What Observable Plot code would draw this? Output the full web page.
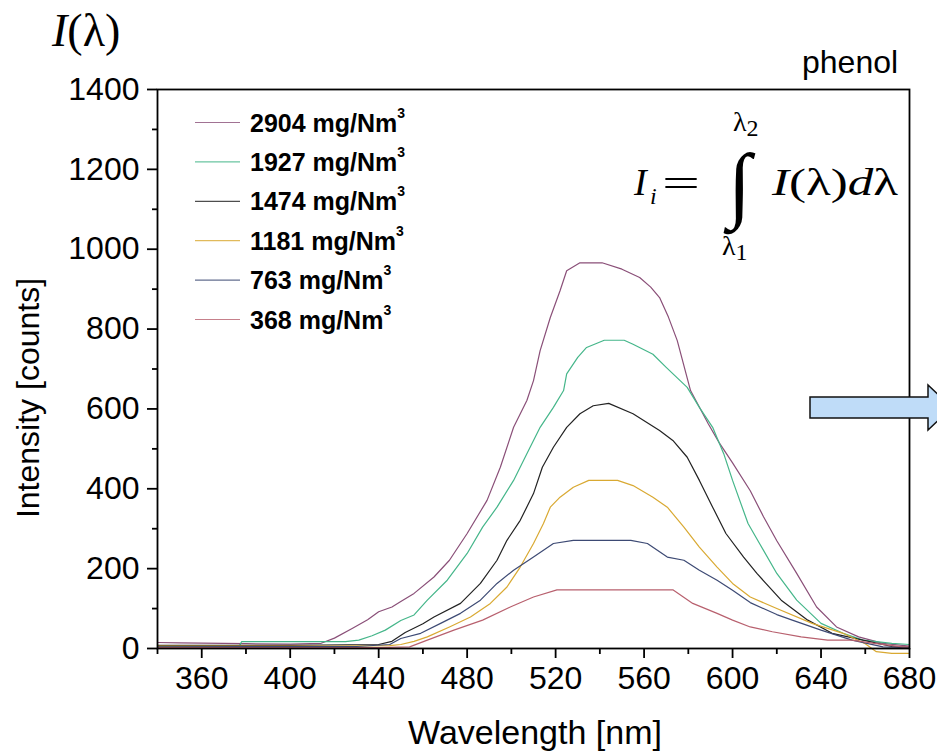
<!DOCTYPE html>
<html>
<head>
<meta charset="utf-8">
<script src="https://cdn.jsdelivr.net/npm/d3@7"></script>
<script src="https://cdn.jsdelivr.net/npm/@observablehq/plot@0.6"></script>
<style>
  html, body { margin: 0; padding: 0; background: #fff; }
  svg { display: block; }
</style>
</head>
<body>
<div id="chart"></div>
<script>
// ---- Data ----
const seriesLabels = ["2904", "1927", "1474", "1181", "763", "368"];
const seriesColors = ["#8a4f78", "#45b68a", "#222222", "#d9a932", "#3d4a74", "#b8606e"];
const xTicks = [360, 400, 440, 480, 520, 560, 600, 640, 680];
const xMinorTicks = [340, 380, 420, 460, 500, 540, 580, 620, 660];
const yTicks = [0, 200, 400, 600, 800, 1000, 1200, 1400];
const yMinorTicks = [100, 300, 500, 700, 900, 1100, 1300];

// [wavelength nm, intensity counts]
const c2904 = [[340,15],[350,14],[380,12],[400,11],[414,13],[420,26],[428,50],[435,72],[440,92],[446,104],[450,118],[456,138],[465,179],[472,221],[480,288],[489,371],[495,454],[501,554],[507,621],[510,671],[513,746],[517.6,829],[522,896],[525,946],[531,966],[541,966],[550,950],[558,929],[563,905],[567,879],[571,830],[575,771],[581,646],[589,563],[594,515],[600,465],[608,395],[614,330],[620,270],[629,188],[638,104],[647,54],[657,29],[668,13],[680,6]];
const c1927 = [[340,5],[377,6],[378,17],[400,17],[425,17],[431,21],[437,32],[443,46],[450,70],[456,84],[462,121],[471,171],[480,238],[487,304],[493.5,354],[501,421],[507,488],[513,554],[519,604],[523.6,646],[525,688],[530,729],[534,754],[542,772],[551,772],[555,762],[564,737],[570,704],[579.5,654],[585,604],[591,554],[596,488],[600,421],[607,313],[612,265],[620,188],[629,121],[640,63],[650,38],[659,21],[672,13],[680,10]];
const c1474 = [[340,8],[400,8],[440,10],[446,18],[452,40],[460,62],[465,79],[477,113],[486,163],[493.5,221],[498,271],[504,321],[510,388],[514,454],[519,504],[525,554],[531,588],[537,608],[544,614],[555,588],[567,546],[573,521],[579.5,479],[585,421],[591,354],[597,288],[605,229],[611,188],[622,121],[634,71],[645,38],[659,21],[672,5],[680,3]];
const c1181 = [[340,6],[420,6],[445,7],[450,10],[456,18],[462,29],[472,54],[481.5,79],[490.5,113],[498,154],[504,204],[510,263],[514.5,313],[517.6,354],[522,379],[528,404],[535,421],[548,421],[555,408],[564,379],[570.5,354],[578,304],[585,254],[593,204],[600,163],[608,129],[620,100],[636,63],[650,38],[660,12],[665,-8],[672,-12],[680,-12]];
const c763 = [[340,4],[430,5],[445,10],[450,25],[459,38],[468,63],[477,88],[486,121],[493.5,163],[501,196],[510,229],[519,263],[528,271],[554,271],[561.5,263],[570.5,229],[578,221],[585,196],[593,171],[600,146],[608,115],[620,85],[627,71],[640,46],[654,21],[668,4],[680,2]];
const c368 = [[340,2],[440,2],[454,4],[462,21],[474,46],[487,71],[499.5,104],[510,129],[520.6,147],[573,147],[582,113],[593,88],[600,71],[608,54],[618,42],[631,29],[643,21],[654,21],[664,13],[677,4],[680,4]];
const curves = [c2904, c1927, c1474, c1181, c763, c368];

const rows = seriesLabels.flatMap((s, i) => curves[i].map(([w, v]) => ({series: s, w, v})));

const W = 937, H = 755;
const chart = Plot.plot({
  width: W,
  height: H,
  marginLeft: 157,
  marginRight: 28,
  marginTop: 89,
  marginBottom: 107,
  style: {fontFamily: "'Liberation Sans', Arial, sans-serif", background: "#fff", color: "#000", overflow: "visible"},
  x: {domain: [340, 680]},
  y: {domain: [0, 1400]},
  color: {domain: seriesLabels, range: seriesColors},
  marks: [
    Plot.line(rows, {x: "w", y: "v", z: "series", stroke: "series", strokeWidth: 1.2}),
    Plot.axisY({ticks: yTicks, tickSize: 10, tickPadding: 8, fontSize: 32, tickFormat: d => String(d), label: null, strokeWidth: 1.8}),
    Plot.axisY({ticks: yMinorTicks, tickSize: 5, tickFormat: () => "", label: null, strokeWidth: 1.8}),
    Plot.axisX({ticks: xTicks, tickSize: 10, tickPadding: 8, fontSize: 32, tickFormat: d => String(d), label: null, strokeWidth: 1.8}),
    Plot.axisX({ticks: xMinorTicks, tickSize: 6, tickFormat: () => "", label: null, strokeWidth: 1.8}),
    Plot.frame({stroke: "#000", strokeWidth: 1.8})
  ]
});
document.getElementById("chart").appendChild(chart);

// ---- Annotations ----
const svg = d3.select(chart);
const sans = "'Liberation Sans', Arial, sans-serif";
const serif = "'Liberation Serif', 'DejaVu Serif', serif";
const ann = svg.append("g").attr("text-anchor", "start");

// Axis titles
ann.append("text").attr("x", 535).attr("y", 744).attr("text-anchor", "middle")
  .attr("font-family", sans).attr("font-size", 34).text("Wavelength [nm]");
ann.append("text").attr("transform", "translate(39,398) rotate(-90)").attr("text-anchor", "middle")
  .attr("font-family", sans).attr("font-size", 32).text("Intensity [counts]");

// Top-left I(λ)
const t1 = ann.append("text").attr("x", 52).attr("y", 46).attr("font-family", serif).attr("font-size", 46);
t1.append("tspan").attr("font-style", "italic").text("I");
t1.append("tspan").text("(λ)");

// phenol
ann.append("text").attr("x", 802).attr("y", 73).attr("font-family", sans).attr("font-size", 32).text("phenol");

// Legend
const legX0 = 195, legX1 = 240, legTextX = 250, legY0 = 122.5, legDy = 39.4;
seriesLabels.forEach((s, i) => {
  const y = legY0 + i * legDy;
  ann.append("line").attr("x1", legX0).attr("x2", legX1).attr("y1", y).attr("y2", y)
    .attr("stroke", seriesColors[i]).attr("stroke-width", 1.2).attr("stroke-opacity", 0.8);
  const t = ann.append("text").attr("x", legTextX).attr("y", y + 9)
    .attr("font-family", sans).attr("font-size", 25).attr("font-weight", "bold");
  t.append("tspan").text(s + " mg/Nm");
  t.append("tspan").attr("font-size", 14).attr("dy", -14).text("3");
});

// Formula
const f = ann.append("g").attr("font-family", serif);
f.append("text").attr("x", 634).attr("y", 195).attr("font-size", 38).attr("font-style", "italic").text("I");
f.append("text").attr("x", 650).attr("y", 204).attr("font-size", 24).attr("font-style", "italic").text("i");
f.append("text").attr("x", 662).attr("y", 196).attr("font-size", 38).attr("textLength", 38).attr("lengthAdjust", "spacingAndGlyphs").text("=");
f.append("text").attr("x", 728).attr("y", 212).attr("font-size", 84).text("∫");
const l2 = f.append("text").attr("x", 733).attr("y", 131).attr("font-size", 28);
l2.append("tspan").text("λ");
l2.append("tspan").attr("font-size", 24).attr("dy", 5).text("2");
const l1 = f.append("text").attr("x", 722).attr("y", 255).attr("font-size", 28);
l1.append("tspan").text("λ");
l1.append("tspan").attr("font-size", 24).attr("dy", 5).text("1");
const rhs = f.append("text").attr("x", 772).attr("y", 195).attr("font-size", 38)
  .attr("textLength", 126).attr("lengthAdjust", "spacingAndGlyphs");
rhs.append("tspan").attr("font-style", "italic").text("I");
rhs.append("tspan").text("(λ)");
rhs.append("tspan").attr("font-style", "italic").text("d");
rhs.append("tspan").text("λ");

// Arrow
ann.append("path")
  .attr("d", "M810,397 L928,397 L928,385 L952,407.5 L928,430 L928,418 L810,418 Z")
  .attr("fill", "#bfdcf8").attr("stroke", "#111").attr("stroke-width", 1.5);
</script>
</body>
</html>
